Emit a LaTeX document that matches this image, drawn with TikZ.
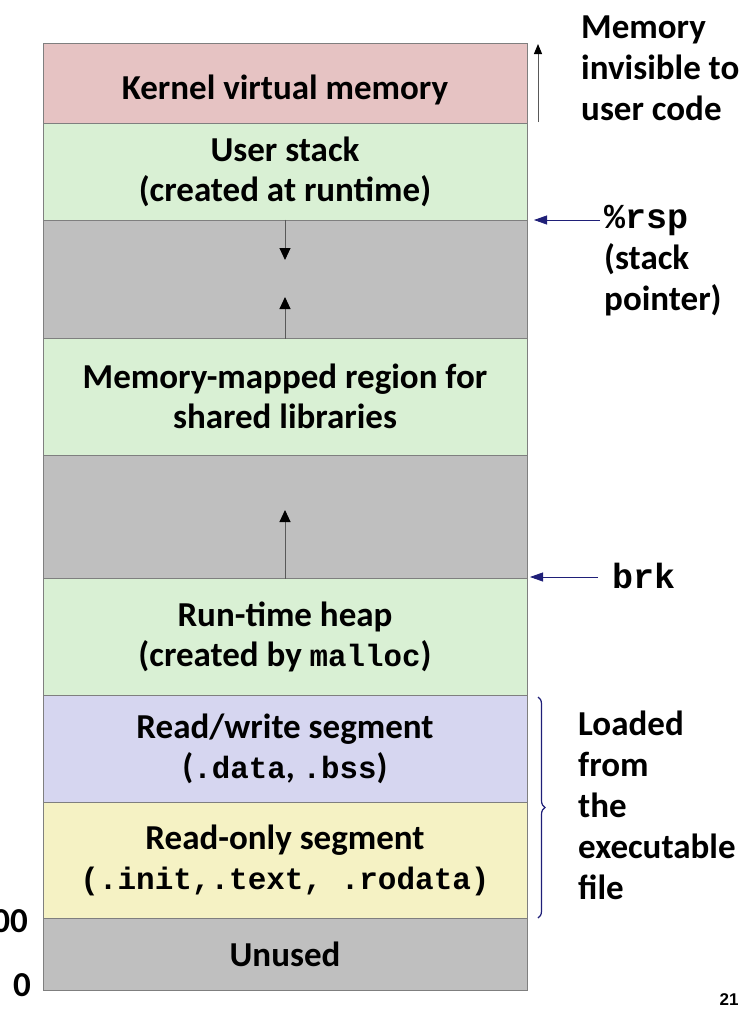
\documentclass[tikz,border=0pt]{standalone}
\usepackage{fontspec}
\setmainfont{Carlito}
\setmonofont{Liberation Mono}[Scale=0.88]
\newfontfamily\bigmono{Liberation Mono}
\newfontfamily\arialfont{Liberation Sans}
\usetikzlibrary{arrows.meta,decorations.pathreplacing}
\definecolor{kernelc}{HTML}{E6C3C3}
\definecolor{greenc}{HTML}{D9F0D4}
\definecolor{grayc}{HTML}{BFBFBF}
\definecolor{lavc}{HTML}{D6D6F0}
\definecolor{yelc}{HTML}{F5F2C4}
\definecolor{edgec}{HTML}{7F7F7F}
\definecolor{navyc}{HTML}{1F1F78}
\definecolor{linec}{HTML}{595959}
\tikzset{
  seg/.style={draw=edgec, line width=1pt, rectangle, minimum width=484pt, inner sep=0pt,
    align=center, font=\fontsize{35}{40}\selectfont\bfseries},
  growarrow/.style={draw=linec, line width=1pt, -{Triangle[width=11pt,length=12pt,color=black]}},
  ptrarrow/.style={draw=navyc, line width=0.8pt, -{Triangle[width=9pt,length=13pt]}},
  lbl/.style={anchor=west, inner sep=0pt, align=left, font=\fontsize{35}{41}\selectfont\bfseries},
}
\begin{document}
\begin{tikzpicture}[x=1pt,y=-1pt]
\useasboundingbox (0,0) rectangle (742,1036);
\node[seg, fill=kernelc, minimum height=80pt] (kernel) at (285,83) {\raisebox{-16pt}[0pt][0pt]{Kernel virtual memory}};
\node[seg, fill=greenc, minimum height=97pt] (ustack) at (285,171.5) {User stack\\(created at runtime)};
\node[seg, fill=grayc, minimum height=118pt] (gap1) at (285,279) {};
\node[seg, fill=greenc, minimum height=117pt] (mmap) at (285,396.5) {Memory-mapped region for\\shared libraries};
\node[seg, fill=grayc, minimum height=123pt] (gap2) at (285,516.5) {};
\node[seg, fill=greenc, minimum height=117pt] (heap) at (285,636.5) {Run-time heap\\(created by \texttt{malloc})};
\node[seg, fill=lavc, minimum height=107pt] (rw) at (285,748.5) {Read/write segment\\(\texttt{.data}, \texttt{.bss})};
\node[seg, fill=yelc, minimum height=116pt] (ro) at (285,860) {Read-only segment\\{\bigmono\fontsize{31}{40}\selectfont(.init,.text, .rodata)}};
\node[seg, fill=grayc, minimum height=72pt] (unused) at (285,954) {Unused};

% growth arrows
\coordinate (stackdown) at (285,260);
\coordinate (mmapup) at (285,297);
\coordinate (heapup) at (285,510);
\draw[growarrow] (gap1.north) -- (stackdown);
\draw[growarrow] (gap1.south) -- (mmapup);
\draw[growarrow] (gap2.south) -- (heapup);

% kernel arrow
\coordinate (kbot) at (538,122);
\coordinate (ktop) at (538,44);
\draw[draw=linec, line width=1pt, -{Triangle[width=8pt,length=10pt,color=black]}] (kbot) -- (ktop);

% labels
\node[lbl] (invis) at (581,68) {Memory\\invisible to\\user code};
\node[lbl] (rsp) at (604,261) {{\bigmono\%rsp}\\(stack\\pointer)};
\node[lbl] (brk) at (612,576) {{\bigmono brk}};
\node[lbl] (loaded) at (578,805) {Loaded\\from\\the\\executable\\file};

\coordinate (rsptail) at (600,220);
\coordinate (rsptip) at (534,220);
\draw[ptrarrow] (rsptail) -- (rsptip);
\coordinate (brktail) at (598,577);
\coordinate (brktip) at (530,577);
\draw[ptrarrow] (brktail) -- (brktip);

% brace
\coordinate (btop) at (538,697);
\coordinate (bbot) at (538,918);
\draw[navyc, line width=1.2pt, decorate, decoration={brace, amplitude=7pt}] (btop) -- (bbot);

% addresses
\node[anchor=east, inner sep=0pt, font=\fontsize{35}{36}\selectfont\bfseries] (a400) at (28,921) {00};
\node[anchor=east, inner sep=0pt, font=\fontsize{35}{36}\selectfont\bfseries] (azero) at (31,985) {0};
\node[inner sep=0pt, font=\arialfont\fontsize{17}{18}\selectfont\bfseries] (pnum) at (729,1000) {21};
\end{tikzpicture}
\end{document}
